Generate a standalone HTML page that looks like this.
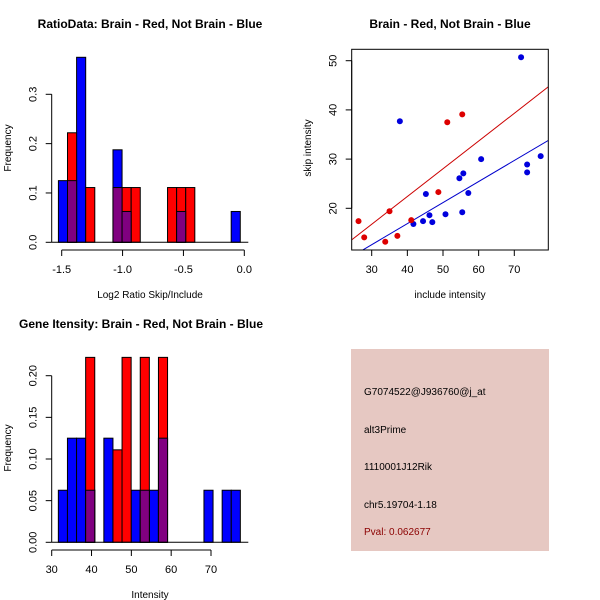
<!DOCTYPE html>
<html><head><meta charset="utf-8"><style>
body{margin:0;background:#fff}
svg{display:block;font-family:"Liberation Sans",sans-serif}
</style></head><body>
<svg id="c" width="600" height="600" viewBox="0 0 600 600">
<rect width="600" height="600" fill="#fff"/>
</svg>
<script>
// ---- Panel 1: ratio histogram ----
const ratioBlue = [0.125,0.125,0.375,0,0,0,0.1875,0.0625,0,0,0,0,0,0.0625,0,0,0,0,0,0.0625];
const ratioRed  = [0,0.222,0,0.111,0,0,0.111,0.111,0.111,0,0,0,0.111,0.111,0.111,0,0,0,0,0];
const ratioBreakStart = [-1.527];
const ratioBinWidth = [0.0747];
const ratioXTicks = [-1.5,-1.0,-0.5,0.0];
const ratioXTickLabels = ["-1.5","-1.0","-0.5","0.0"];
const ratioYTicks = [0,0.1,0.2,0.3];
const ratioYTickLabels = ["0.0","0.1","0.2","0.3"];
// ---- Panel 2: scatter ----
const blueInclude = [37.9,71.9,60.7,77.4,73.6,73.6,55.7,54.6,57.1,45.2,46.2,50.7,55.4,41.7,44.4,47.0];
const blueSkip    = [37.7,50.7,30.0,30.6,28.9,27.3,27.1,26.1,23.1,22.9,18.6,18.8,19.2,16.8,17.4,17.2];
const redInclude  = [26.3,27.9,33.8,35.0,37.2,41.1,48.7,51.2,55.4];
const redSkip     = [17.4,14.1,13.2,19.4,14.4,17.6,23.3,37.5,39.1];
const redFit  = [-0.17,0.564];
const blueFit = [-0.24,0.428];
const scatXTicks = [30,40,50,60,70];
const scatXTickLabels = ["30","40","50","60","70"];
const scatYTicks = [20,30,40,50];
const scatYTickLabels = ["20","30","40","50"];
// ---- Panel 3: intensity histogram ----
const intBlue = [0.0625,0.125,0.125,0.0625,0,0.125,0,0,0.0625,0.0625,0.0625,0.125,0,0,0,0,0.0625,0,0.0625,0.0625];
const intRed  = [0,0,0,0.222,0,0,0.111,0.222,0,0.222,0,0.222,0,0,0,0,0,0,0,0];
const intBreakStart = [31.67];
const intBinWidth = [2.285];
const intXTicks = [30,40,50,60,70];
const intXTickLabels = ["30","40","50","60","70"];
const intYTicks = [0,0.05,0.10,0.15,0.20];
const intYTickLabels = ["0.00","0.05","0.10","0.15","0.20"];

const NS="http://www.w3.org/2000/svg";
const svg=document.getElementById('c');
function mk(tag,attrs,parent){const e=document.createElementNS(NS,tag);for(const k in attrs)e.setAttribute(k,attrs[k]);(parent||svg).appendChild(e);return e;}
function txt(s,x,y,attrs,parent){const e=mk('text',Object.assign({x:x,y:y,'font-size':11,fill:'#000'},attrs),parent);e.textContent=s;return e;}
function lin(d0,d1,p0,p1){return v=>p0+(v-d0)*(p1-p0)/(d1-d0);}

function axes(g,sx,sy,xt,xl,yt,yl,xAxisY,yAxisX){
  const xa=mk('g',{},g);
  
  
  mk('line',{x1:sx(xt[0]),x2:sx(xt[xt.length-1]),y1:xAxisY,y2:xAxisY,stroke:'#000'},xa);
  xt.forEach((t,i)=>{mk('line',{x1:sx(t),x2:sx(t),y1:xAxisY,y2:xAxisY+6,stroke:'#000'},xa);
    const l=txt(xl[i],sx(t),xAxisY+23,{'text-anchor':'middle'},xa);
    
    });
  const ya=mk('g',{},g);
  
  
  mk('line',{x1:yAxisX,x2:yAxisX,y1:sy(yt[0]),y2:sy(yt[yt.length-1]),stroke:'#000'},ya);
  yt.forEach((t,i)=>{mk('line',{x1:yAxisX-6,x2:yAxisX,y1:sy(t),y2:sy(t),stroke:'#000'},ya);
    const bx=yAxisX-15;
    const l=txt(yl[i],bx,sy(t),{'text-anchor':'middle',transform:`rotate(-90 ${bx} ${sy(t)})`},ya);
    
    });
}
function hist(g,blue,red,start,w,sx,sy){
  blue.forEach((v,i)=>{if(v<=0)return;const x0=sx(start+i*w),x1=sx(start+(i+1)*w);
    const r=mk('rect',{x:x0,y:sy(v),width:x1-x0,height:sy(0)-sy(v),fill:'#0000ff',stroke:'#000'},g);
    
    });
  red.forEach((v,i)=>{if(v<=0)return;const x0=sx(start+i*w),x1=sx(start+(i+1)*w);
    const r=mk('rect',{x:x0,y:sy(v),width:x1-x0,height:sy(0)-sy(v),fill:'#ff0000',stroke:'#000'},g);
    
    });
  red.forEach((v,i)=>{const m=Math.min(v,blue[i]);if(m<=0)return;const x0=sx(start+i*w),x1=sx(start+(i+1)*w);
    const r=mk('rect',{x:x0,y:sy(m),width:x1-x0,height:sy(0)-sy(m),fill:'#800080',stroke:'#000'},g);
    
    });
}

// Panel 1
(function(){
  const g=mk('g',{});
  
  
  const sx=lin(-1.5,0,61.7,244.3), sy=lin(0,0.3,242.3,94.3);
  hist(g,ratioBlue,ratioRed,ratioBreakStart[0],ratioBinWidth[0],sx,sy);
  mk('line',{x1:51.7,x2:248.3,y1:242.3,y2:242.3,stroke:'#000'},g);
  axes(g,sx,sy,ratioXTicks,ratioXTickLabels,ratioYTicks,ratioYTickLabels,250,51.7);
  const t=txt('RatioData: Brain - Red, Not Brain - Blue',150,28,{'text-anchor':'middle','font-weight':'bold','font-size':12},g);
  
  const xl=txt('Log2 Ratio Skip/Include',150,298,{'text-anchor':'middle','font-size':10},g);
  
  const yl=txt('Frequency',11,148,{'text-anchor':'middle','font-size':10,transform:'rotate(-90 11 148)'},g);
  
})();

// Panel 2
(function(){
  const g=mk('g',{});
  
  
  const sx=lin(30,70,371.7,514.3), sy=lin(20,50,208.3,60.7);
  const L=351.7,R=548.3,T=49.3,B=250;
  mk('clipPath',{id:'sc'},g).appendChild((()=>{const r=document.createElementNS(NS,'rect');r.setAttribute('x',L);r.setAttribute('y',T);r.setAttribute('width',R-L);r.setAttribute('height',B-T);return r;})());
  const xmin=24.4,xmax=79.5;
  [[redFit,'#cc0000','fit-line-red'],[blueFit,'#0000cc','fit-line-blue']].forEach(([f,c,n])=>{
    const l=mk('line',{x1:sx(xmin-2),y1:sy(f[0]+f[1]*(xmin-2)),x2:sx(xmax+2),y2:sy(f[0]+f[1]*(xmax+2)),stroke:c,'clip-path':'url(#sc)'},g);
    });
  blueInclude.forEach((v,i)=>{const p=mk('circle',{cx:sx(v),cy:sy(blueSkip[i]),r:3,fill:'#0000dd'},g);
    });
  redInclude.forEach((v,i)=>{const p=mk('circle',{cx:sx(v),cy:sy(redSkip[i]),r:3,fill:'#dd0000'},g);
    });
  mk('rect',{x:L,y:T,width:R-L,height:B-T,fill:'none',stroke:'#000'},g);
  axes(g,sx,sy,scatXTicks,scatXTickLabels,scatYTicks,scatYTickLabels,B,L);
  const t=txt('Brain - Red, Not Brain - Blue',450,28,{'text-anchor':'middle','font-weight':'bold','font-size':12},g);
  
  const xl=txt('include intensity',450,298,{'text-anchor':'middle','font-size':10},g);
  
  const yl=txt('skip intensity',311,148,{'text-anchor':'middle','font-size':10,transform:'rotate(-90 311 148)'},g);
  
})();

// Panel 3
(function(){
  const g=mk('g',{});
  
  
  const sx=lin(30,70,51.7,211), sy=lin(0,0.2,542.3,375.7);
  hist(g,intBlue,intRed,intBreakStart[0],intBinWidth[0],sx,sy);
  mk('line',{x1:51.7,x2:248.3,y1:542.3,y2:542.3,stroke:'#000'},g);
  axes(g,sx,sy,intXTicks,intXTickLabels,intYTicks,intYTickLabels,550,51.7);
  const t=txt('Gene Itensity: Brain - Red, Not Brain - Blue',141,328,{'text-anchor':'middle','font-weight':'bold','font-size':12},g);
  
  const xl=txt('Intensity',150,598,{'text-anchor':'middle','font-size':10},g);
  
  const yl=txt('Frequency',11,448,{'text-anchor':'middle','font-size':10,transform:'rotate(-90 11 448)'},g);
  
})();
</script>
<div style="position:absolute;left:351px;top:349px;width:198px;height:202px;background:#e6c8c2;font-family:'Liberation Sans',sans-serif;font-size:10px;color:#000">
  <div style="position:absolute;left:13px;top:38px">G7074522@J936760@j_at</div>
  <div style="position:absolute;left:13px;top:76px">alt3Prime</div>
  <div style="position:absolute;left:13px;top:113px">1110001J12Rik</div>
  <div style="position:absolute;left:13px;top:151px">chr5.19704-1.18</div>
  <div style="position:absolute;left:13px;top:178px;color:#8b0000">Pval: 0.062677</div>
</div>
</body></html>
